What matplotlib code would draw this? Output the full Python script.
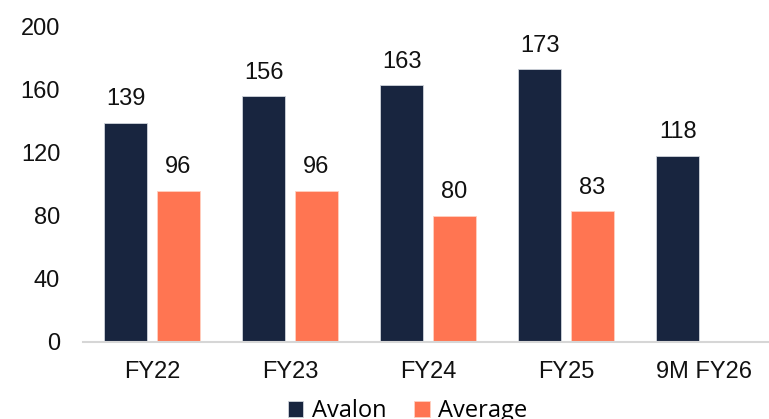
import numpy as np
import matplotlib.pyplot as plt

# данные с графика
categories = ['FY22', 'FY23', 'FY24', 'FY25', '9M FY26']
avalon = [139, 156, 163, 173, 118]
average = [96, 96, 80, 83, None]

navy = '#18253F'
orange = '#FF7552'

plt.rcParams['font.family'] = ['Liberation Sans', 'DejaVu Sans']

fig = plt.figure(figsize=(7.69, 4.19), dpi=100)
ax = fig.add_axes([0.108, 0.184, 0.897, 0.752])

x = np.arange(len(categories))
w = 0.31
off = 0.19

b1 = ax.bar(x - off, avalon, w, color=navy, edgecolor='#d0d4dc', linewidth=0.6, label='Avalon')
avg_x = [xi + off for xi, v in zip(x, average) if v is not None]
avg_v = [v for v in average if v is not None]
b2 = ax.bar(avg_x, avg_v, w, color=orange, edgecolor='#ffd0c0', linewidth=0.6, label='Average')

fs = 17
for xi, v in zip(x - off, avalon):
    ax.text(xi, v + 8, str(v), ha='center', va='bottom', fontsize=fs, color='#111111')
for xi, v in zip(avg_x, avg_v):
    ax.text(xi, v + 8, str(v), ha='center', va='bottom', fontsize=fs, color='#111111')

ax.set_xlim(-0.5, len(categories) - 0.5)
ax.set_ylim(0, 200)
ax.set_yticks(range(0, 201, 40))
ax.set_xticks(x)
ax.set_xticklabels(categories)
ax.tick_params(axis='both', length=0, labelsize=fs, colors='#111111')
ax.tick_params(axis='y', pad=16.5)
ax.tick_params(axis='x', pad=14)

for s in ['top', 'right', 'left']:
    ax.spines[s].set_visible(False)
ax.spines['bottom'].set_color('#d6d6d6')
ax.spines['bottom'].set_linewidth(1.5)

fig.legend(handles=[b1, b2], loc='center', bbox_to_anchor=(0.53, 0.018), ncol=2,
           frameon=False, handlelength=0.65, handleheight=0.65,
           handletextpad=0.35, columnspacing=1.2, prop={'family': 'Open Sans', 'size': 17})

fig.savefig('out.png', dpi=100)
